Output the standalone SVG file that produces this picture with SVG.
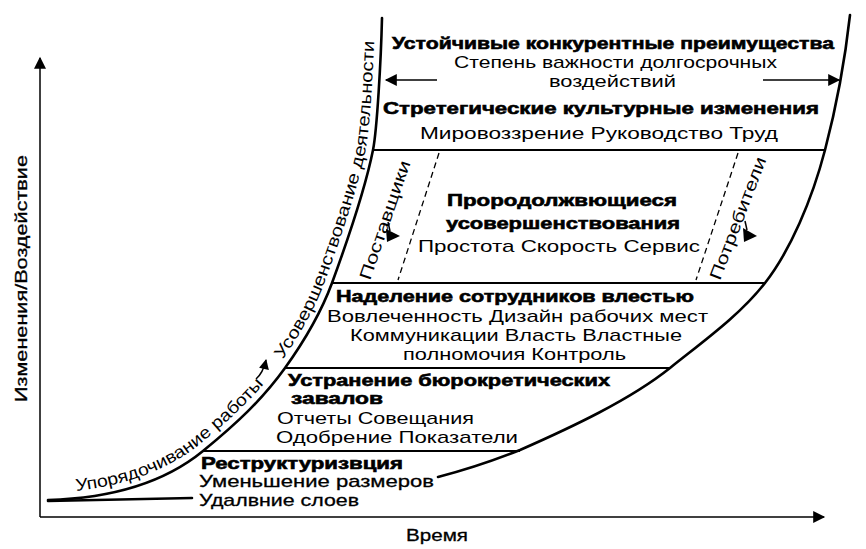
<svg xmlns="http://www.w3.org/2000/svg" width="866" height="549" viewBox="0 0 866 549">
<style>
text { font-family: "Liberation Sans", Arial, Helvetica, sans-serif; fill: #000; }
.b { font-weight: bold; font-size: 17px; stroke: #000; stroke-width: 0.6px; }
.r { font-size: 17px; }
.m { font-size: 17px; stroke: #000; stroke-width: 0.3px; }
.curve { fill: none; stroke: #000; stroke-width: 2.6; stroke-linecap: round; }
.band { fill: none; stroke: #000; stroke-width: 2; }
.axis { fill: none; stroke: #000; stroke-width: 1.5; }
.dash { fill: none; stroke: #000; stroke-width: 1.3; stroke-dasharray: 6 4; }
.arr { fill: none; stroke: #000; stroke-width: 1.5; }
</style>
<defs>
<marker id="ah" viewBox="0 0 10 10" refX="9" refY="5" markerWidth="18" markerHeight="12" markerUnits="userSpaceOnUse" orient="auto"><path d="M0,0 L10,5 L0,10 z"/></marker>
<marker id="ahs" viewBox="0 0 10 10" refX="9" refY="5" markerWidth="14" markerHeight="10" markerUnits="userSpaceOnUse" orient="auto"><path d="M0,0 L10,5 L0,10 z"/></marker>
<path id="p1" d="M45,493 C117,491 167,471 200,444 C233,417 259,393 282,361"/>
<path id="p2" d="M278,366 C301,334 315,308 325,281 C340,240 358,188 366,148 C370,128 374,58 375,18"/>
</defs>
<rect width="866" height="549" fill="#fff"/>

<g id="axes">
<line class="axis" x1="40" y1="517" x2="40" y2="58" marker-end="url(#ah)"/>
<line class="axis" x1="40" y1="517" x2="824" y2="517" marker-end="url(#ah)"/>
<text class="m" transform="translate(27,402) rotate(-90)" textLength="247" lengthAdjust="spacingAndGlyphs">Изменения/Воздействие</text>
<text class="m" x="406" y="541" textLength="62" lengthAdjust="spacingAndGlyphs">Время</text>
</g>

<g id="curves">
<path class="curve" d="M48,500 C120,498 170,478 203,451 C236,424 262,400 285,368 C308,336 322,310 332,283 C347,242 365,190 373,150 C377,130 381,60 382,18"/>
<path class="curve" d="M48,501 C100,500 150,499 192,498"/>
<path class="curve" d="M438,477 C465,470 495,460 520,450 C570,428 630,400 670,368 C705,340 740,315 765,283 C790,251 812,200 825,150 C835,112 845,60 850,15"/>
</g>

<g id="band-top">
<text class="b" x="392" y="49" textLength="442" lengthAdjust="spacingAndGlyphs">Устойчивые конкурентные преимущества</text>
<text class="r" x="454" y="68" textLength="323" lengthAdjust="spacingAndGlyphs">Степень важности долгосрочных</text>
<text class="r" x="549" y="87" textLength="127" lengthAdjust="spacingAndGlyphs">воздействий</text>
</g>

<g id="band-culture">
<text class="b" x="383" y="114" textLength="436" lengthAdjust="spacingAndGlyphs">Стретегические культурные изменения</text>
<text class="r" x="420" y="139" textLength="358" lengthAdjust="spacingAndGlyphs">Мировоззрение Руководство Труд</text>
<line class="band" x1="373" y1="150" x2="825" y2="150"/>
</g>

<g id="band-continuous">
<text class="b" x="447" y="206" textLength="230" lengthAdjust="spacingAndGlyphs">Прородолжвющиеся</text>
<text class="b" x="446" y="229" textLength="234" lengthAdjust="spacingAndGlyphs">усовершенствования</text>
<text class="r" x="418" y="252" textLength="282" lengthAdjust="spacingAndGlyphs">Простота Скорость Сервис</text>
<line class="dash" x1="439" y1="153" x2="398" y2="280"/>
<line class="dash" x1="738" y1="153" x2="696" y2="280"/>
<text class="r" transform="translate(370,281) rotate(-71)" textLength="125" lengthAdjust="spacingAndGlyphs">Поставщики</text>
<text class="r" transform="translate(720,281) rotate(-69)" textLength="130" lengthAdjust="spacingAndGlyphs">Потребители</text>
<line class="band" x1="332" y1="283" x2="765" y2="283"/>
</g>

<g id="band-empower">
<text class="b" x="336" y="302" textLength="358" lengthAdjust="spacingAndGlyphs">Наделение сотрудников влестью</text>
<text class="r" x="327" y="322" textLength="381" lengthAdjust="spacingAndGlyphs">Вовлеченность Дизайн рабочих мест</text>
<text class="r" x="350" y="341" textLength="332" lengthAdjust="spacingAndGlyphs">Коммуникации Власть Властные</text>
<text class="r" x="403" y="360" textLength="223" lengthAdjust="spacingAndGlyphs">полномочия Контроль</text>
<line class="band" x1="285" y1="368" x2="670" y2="368"/>
</g>

<g id="band-bureau">
<text class="b" x="288" y="386" textLength="322" lengthAdjust="spacingAndGlyphs">Устранение бюрокретических</text>
<text class="b" x="291" y="404" textLength="92" lengthAdjust="spacingAndGlyphs">завалов</text>
<text class="r" x="277" y="424" textLength="197" lengthAdjust="spacingAndGlyphs">Отчеты Совещания</text>
<text class="r" x="276" y="443" textLength="242" lengthAdjust="spacingAndGlyphs">Одобрение Показатели</text>
<line class="band" x1="203" y1="451" x2="520" y2="451"/>
</g>

<g id="band-restructure">
<text class="b" x="201" y="469" textLength="202" lengthAdjust="spacingAndGlyphs">Реструктуризвция</text>
<text class="m" x="199" y="487" textLength="235" lengthAdjust="spacingAndGlyphs">Уменьшение размеров</text>
<text class="m" x="199" y="506" textLength="160" lengthAdjust="spacingAndGlyphs">Удалвние слоев</text>
</g>

<g id="curve-labels">
<text class="r" font-size="16"><textPath href="#p1" startOffset="31" textLength="222" lengthAdjust="spacingAndGlyphs">Упорядочивание работы</textPath></text>
<text class="r" font-size="16"><textPath href="#p2" startOffset="8" textLength="336" lengthAdjust="spacingAndGlyphs">Усовершенствование деятельности</textPath></text>
</g>

<g id="connectors">
<line class="arr" x1="437" y1="80" x2="386" y2="80" marker-end="url(#ah)"/>
<line class="arr" x1="763" y1="80" x2="839" y2="80" marker-end="url(#ah)"/>
<path class="arr" d="M256,379 Q263,373 266,360" marker-end="url(#ahs)"/>
<path class="arr" d="M388,222 L390,231"/>
<polygon points="386,229 400,236 387,242"/>
<path class="arr" d="M745,221 L747,230"/>
<polygon points="743,228 757,236 744,242"/>
</g>
</svg>
